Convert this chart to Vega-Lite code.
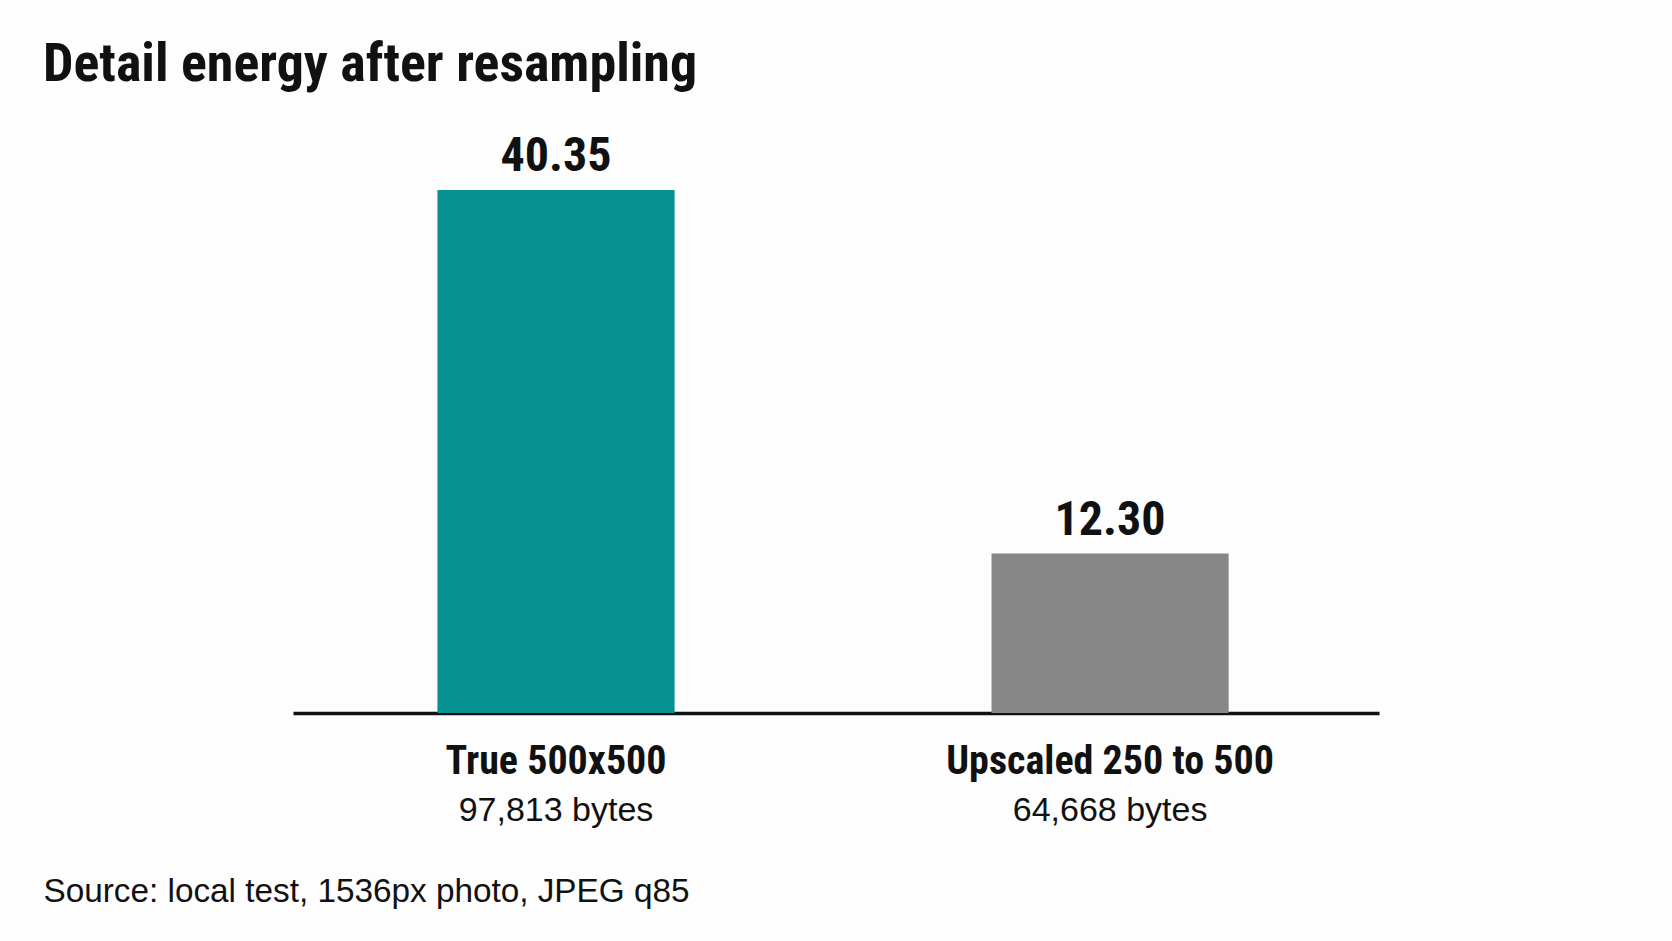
{
  "$schema": "https://vega.github.io/schema/vega-lite/v6.json",
  "autosize": "none",
  "width": 1086,
  "height": 523,
  "padding": {"left": 293, "top": 190, "right": 293, "bottom": 228},
  "background": "#fdfdfd",
  "config": {"view": {"stroke": null}},
  "title": {
    "text": "Detail energy after resampling",
    "anchor": "start",
    "frame": "group",
    "dx": -250,
    "offset": 41,
    "font": "Roboto Condensed",
    "fontSize": 54,
    "fontWeight": "bold",
    "color": "#111111"
  },
  "data": {
    "values": [
      {"setup": "True 500x500", "bytes": 97813, "energy": 40.35},
      {"setup": "Upscaled 250 to 500", "bytes": 64668, "energy": 12.30}
    ]
  },
  "transform": [
    {"calculate": "format(datum.bytes, ',') + ' bytes'", "as": "bytes_label"}
  ],
  "encoding": {
    "x": {
      "field": "setup",
      "type": "nominal",
      "sort": null,
      "scale": {"paddingInner": 0.572, "paddingOuter": 0.266, "align": 0.49},
      "axis": {
        "title": "Source: local test, 1536px photo, JPEG q85",
        "titleFont": "Liberation Sans",
        "titleFontSize": 33.3,
        "titleFontWeight": "normal",
        "titleColor": "#111111",
        "titleAnchor": "start",
        "titleAlign": "left",
        "titleBaseline": "alphabetic",
        "titleX": -250,
        "titleY": 188,
        "labelAngle": 0,
        "labelLimit": 0,
        "labelFont": "Roboto Condensed",
        "labelFontSize": 40,
        "labelFontWeight": "bold",
        "labelColor": "#111111",
        "labelBaseline": "alphabetic",
        "labelPadding": 60,
        "ticks": false,
        "domainColor": "#111111",
        "domainWidth": 3.5
      }
    }
  },
  "layer": [
    {
      "mark": {"type": "bar"},
      "encoding": {
        "y": {
          "field": "energy",
          "type": "quantitative",
          "scale": {"domain": [0, 40.35], "nice": false},
          "axis": null
        },
        "color": {
          "field": "setup",
          "type": "nominal",
          "scale": {"domain": ["True 500x500", "Upscaled 250 to 500"], "range": ["#05918f", "#878787"]},
          "legend": null
        }
      }
    },
    {
      "mark": {
        "type": "text",
        "baseline": "alphabetic",
        "dy": -19,
        "font": "Roboto Condensed",
        "fontSize": 48,
        "fontWeight": "bold",
        "color": "#111111"
      },
      "encoding": {
        "y": {"field": "energy", "type": "quantitative"},
        "text": {"field": "energy", "type": "quantitative", "format": ".2f"}
      }
    },
    {
      "mark": {
        "type": "text",
        "baseline": "alphabetic",
        "dy": 108,
        "font": "Liberation Sans",
        "fontSize": 34,
        "color": "#111111"
      },
      "encoding": {
        "y": {"datum": 0, "type": "quantitative"},
        "text": {"field": "bytes_label"}
      }
    }
  ]
}
